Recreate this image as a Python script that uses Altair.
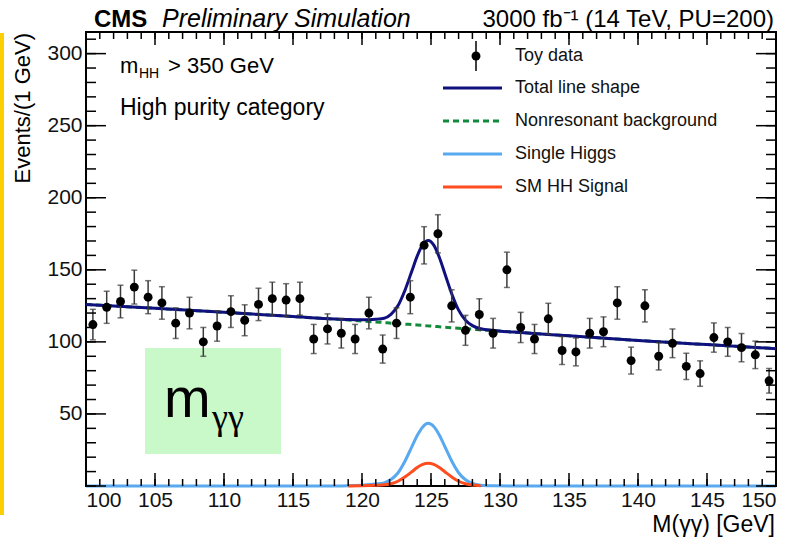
import altair as alt
import numpy as np
import pandas as pd

# ---------------- toy data: 1 GeV bins in M(gamma gamma) ----------------
bin_center = [100.5, 101.5, 102.5, 103.5, 104.5, 105.5, 106.5, 107.5, 108.5, 109.5,
              110.5, 111.5, 112.5, 113.5, 114.5, 115.5, 116.5, 117.5, 118.5, 119.5,
              120.5, 121.5, 122.5, 123.5, 124.5, 125.5, 126.5, 127.5, 128.5, 129.5,
              130.5, 131.5, 132.5, 133.5, 134.5, 135.5, 136.5, 137.5, 138.5, 139.5,
              140.5, 141.5, 142.5, 143.5, 144.5, 145.5, 146.5, 147.5, 148.5, 149.5]
events = [112, 124, 128, 138, 131, 127, 113, 120, 100, 111,
          121, 115, 126, 130, 129, 130, 102, 109, 106, 102,
          120, 95, 113, 131, 167, 175, 125, 108, 119, 106,
          150, 110, 102, 116, 94, 93, 106, 107, 127, 87,
          125, 90, 99, 83, 78, 103, 100, 96, 91, 73]

# ---------------- fitted line shapes, sampled along M(gamma gamma) ----------------
m_grid = [100, 105, 110, 115, 118, 119, 120, 121, 121.6, 122.1,
          122.6, 123.1, 123.6, 124.0, 124.4, 124.8, 125.2, 125.6, 126.0, 126.5,
          127.0, 127.5, 128.0, 128.6, 129.5, 131, 135, 140, 145, 150]
nonres_bkg = [126.0, 123.3, 120.5, 117.6, 115.8, 115.2, 114.5, 113.8, 113.4, 113.0,
              112.7, 112.3, 112.0, 111.7, 111.4, 111.1, 110.8, 110.5, 110.2, 109.8,
              109.5, 109.1, 108.8, 108.3, 107.8, 106.8, 104.2, 101.0, 98.1, 95.3]
single_higgs = [0, 0, 0, 0, 0.05, 0.2, 0.6, 1.4, 2.2, 4.5,
                9.0, 17.0, 27.0, 35.0, 41.0, 43.5, 41.3, 35.4, 27.4, 17.3,
                9.2, 4.3, 1.8, 0.6, 0.1, 0, 0, 0, 0, 0]
hh_signal = [0, 0, 0, 0, 0, 0.05, 0.2, 0.5, 0.8, 1.6,
             3.3, 6.2, 9.8, 12.8, 15.0, 15.8, 15.0, 12.8, 9.9, 6.3,
             3.3, 1.6, 0.65, 0.2, 0.05, 0, 0, 0, 0, 0]

# ---------------- axis ticks ----------------
x_major = [100, 105, 110, 115, 120, 125, 130, 135, 140, 145, 150]
x_minor = list(range(100, 151))
y_major = [0, 50, 100, 150, 200, 250, 300]
y_minor = list(range(0, 311, 10))
y_labels = [50, 100, 150, 200, 250, 300]

FONT = "Liberation Sans"
W, H = 690, 454
C_TOTAL = "#10107e"
C_BKG = "#128a3c"
C_SH = "#58a9f0"
C_HH = "#ff4d1f"

xs = alt.Scale(domain=[100, 150], nice=False, zero=False)
ys = alt.Scale(domain=[0, 315], nice=False, zero=False)

# one shared axis definition per channel, so that every layer merges into it
x_axis = alt.Axis(values=x_major, format="d", labelFont=FONT, labelFontSize=21,
                  labelColor="#111", ticks=False, domain=False, grid=False,
                  labelPadding=3, title=None)
y_axis = alt.Axis(values=y_labels, format="d", labelFont=FONT, labelFontSize=21,
                  labelColor="#111", ticks=False, domain=False, grid=False,
                  labelPadding=4, title=None)

toy = pd.DataFrame({"m": bin_center, "n": events})
toy["lo"] = toy["n"] - np.sqrt(toy["n"])
toy["hi"] = toy["n"] + np.sqrt(toy["n"])

curves = pd.DataFrame({"m": m_grid, "bkg": nonres_bkg, "sh": single_higgs, "hh": hh_signal})
curves["total"] = curves["bkg"] + curves["sh"] + curves["hh"]
hh_part = curves[(curves["m"] >= 119) & (curves["m"] <= 128.6)]


def X(field):
    return alt.X(field, scale=xs, axis=x_axis)


def Y(field):
    return alt.Y(field, scale=ys, axis=y_axis)


def curve(df, col, color, dash=None):
    kw = dict(color=color, strokeWidth=3, interpolate="monotone", clip=False)
    if dash:
        kw["strokeDash"] = dash
    return alt.Chart(df).mark_line(**kw).encode(x=X("m:Q"), y=Y(f"{col}:Q"))


def label(text, x, y, size, align="left", baseline="alphabetic", **kw):
    return alt.Chart(pd.DataFrame({"t": [text]})).mark_text(
        font=kw.pop("font", FONT), fontSize=size, align=align, baseline=baseline,
        color=kw.pop("color", "black"), **kw
    ).encode(x=alt.value(x), y=alt.value(y), text="t:N")


one = pd.DataFrame({"k": [0]})

layers = []

# toy data points first: they carry the axes
toy_points = alt.Chart(toy).mark_circle(size=80, color="black", opacity=1).encode(
    x=X("m:Q"), y=Y("n:Q"))

# yellow side stripe and green tag box
layers.append(alt.Chart(one).mark_rect(color="#fccf00").encode(
    x=alt.value(-86), x2=alt.value(-82), y=alt.value(1), y2=alt.value(483)))
layers.append(alt.Chart(one).mark_rect(color="#c9f8c9").encode(
    x=alt.value(59), x2=alt.value(195), y=alt.value(316), y2=alt.value(422)))
layers.append(label("m", 78, 385, 56))
layers.append(label("γγ", 126, 397, 36, font="Liberation Serif"))

# line shapes
layers.append(curve(curves, "bkg", C_BKG, dash=[6, 4]))
layers.append(curve(curves, "sh", C_SH))
layers.append(curve(hh_part, "hh", C_HH))
layers.append(curve(curves, "total", C_TOTAL))

# toy data with Poisson error bars
layers.append(alt.Chart(toy).mark_rule(color="#3a3a3a", strokeWidth=1.5).encode(
    x=X("m:Q"), y=Y("lo:Q"), y2="hi:Q"))
for end in ["lo", "hi"]:
    layers.append(alt.Chart(toy).mark_tick(orient="horizontal", size=6, thickness=1.5,
                                           color="#3a3a3a").encode(x=X("m:Q"), y=Y(f"{end}:Q")))
layers.append(toy_points)

# inward ticks on all four sides
for vals, length in [(x_minor, 7), (x_major, 13)]:
    d = pd.DataFrame({"v": vals})
    layers.append(alt.Chart(d).mark_rule(color="black", strokeWidth=1.5).encode(
        x=X("v:Q"), y=alt.value(H), y2=alt.value(H - length)))
    layers.append(alt.Chart(d).mark_rule(color="black", strokeWidth=1.5).encode(
        x=X("v:Q"), y=alt.value(0), y2=alt.value(length)))
for vals, length in [(y_minor, 10), (y_major, 20)]:
    d = pd.DataFrame({"v": vals})
    layers.append(alt.Chart(d).mark_rule(color="black", strokeWidth=1.5).encode(
        y=Y("v:Q"), x=alt.value(0), x2=alt.value(length)))
    layers.append(alt.Chart(d).mark_rule(color="black", strokeWidth=1.5).encode(
        y=Y("v:Q"), x=alt.value(W), x2=alt.value(W - length)))

# legend
LX0, LX1, LT = 357, 416, 429
rows = [24, 56, 89, 122, 155]
layers.append(alt.Chart(one).mark_rule(color="black", strokeWidth=1.5).encode(
    x=alt.value(390), y=alt.value(rows[0] - 15), y2=alt.value(rows[0] + 15)))
layers.append(alt.Chart(one).mark_circle(size=80, color="black", opacity=1).encode(
    x=alt.value(390), y=alt.value(rows[0])))
for r, col, dash in [(rows[1], C_TOTAL, None), (rows[2], C_BKG, [6, 4]),
                     (rows[3], C_SH, None), (rows[4], C_HH, None)]:
    kw = dict(color=col, strokeWidth=3)
    if dash:
        kw["strokeDash"] = dash
    layers.append(alt.Chart(one).mark_rule(**kw).encode(
        x=alt.value(LX0), x2=alt.value(LX1), y=alt.value(r)))
for r, txt in zip(rows, ["Toy data", "Total line shape", "Nonresonant background",
                         "Single Higgs", "SM HH Signal"]):
    layers.append(label(txt, LT, r, 18, baseline="middle", color="#111"))

# category text
layers.append(label("m", 34, 41, 22))
layers.append(label("HH", 53, 46, 14))
layers.append(label("> 350 GeV", 82, 41, 22))
layers.append(label("High purity category", 34, 83, 23))

# header
layers.append(label("CMS", 8, -5, 24, fontWeight="bold"))
layers.append(label("Preliminary Simulation", 76, -5, 25, fontStyle="italic"))
layers.append(label("3000 fb⁻¹ (14 TeV, PU=200)", 688, -5, 24, align="right"))

# axis titles
layers.append(label("Events/(1 GeV)", -56, 1, 22, align="right", angle=270))
layers.append(label("M(γγ) [GeV]", 689, 500, 23, align="right"))

chart = alt.layer(*layers).properties(
    width=W, height=H,
    autosize=alt.AutoSizeParams(type="none"),
    padding={"left": 86, "top": 32, "right": 20, "bottom": 57},
    background="white",
).configure_view(stroke="black", strokeWidth=2)

chart.save("out.html", embed_options={"renderer": "svg", "actions": False})
